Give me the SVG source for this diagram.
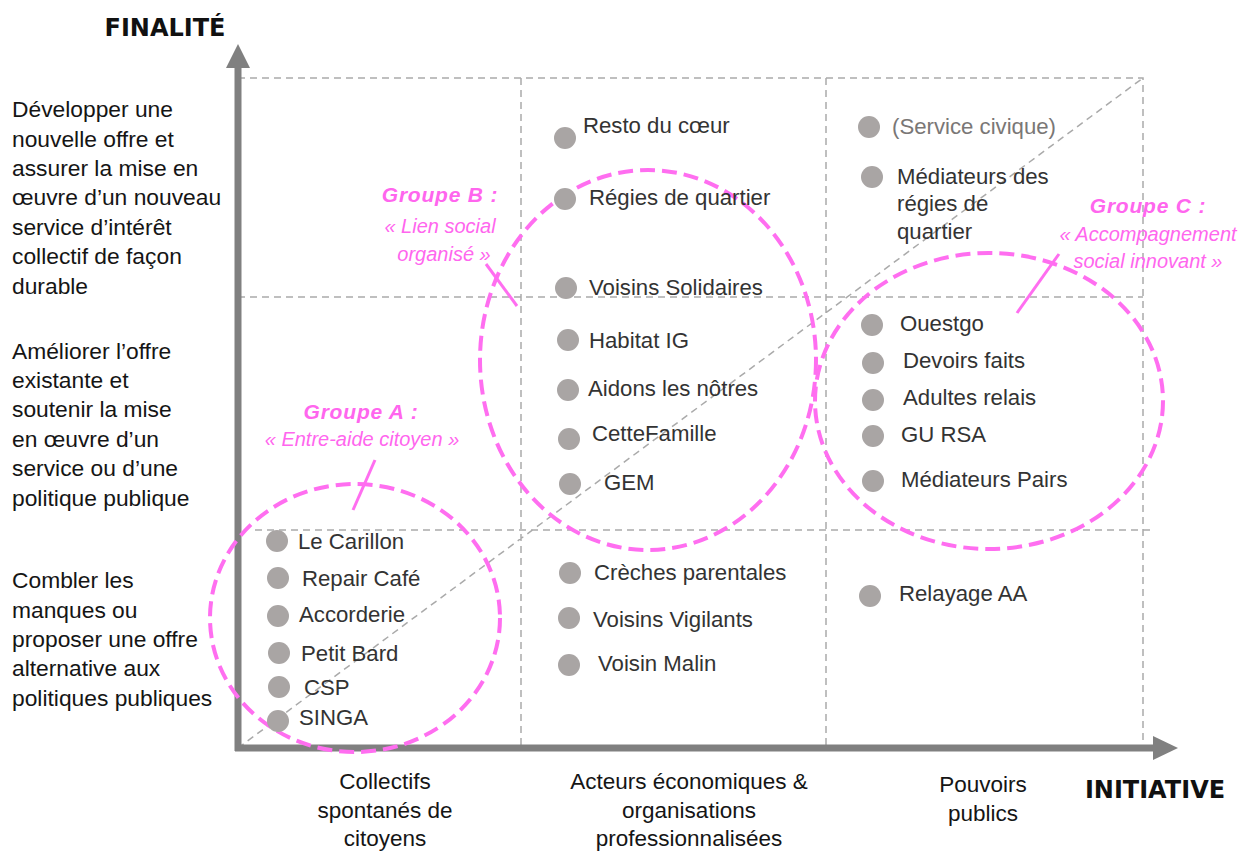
<svg xmlns="http://www.w3.org/2000/svg" width="1255" height="852" viewBox="0 0 1255 852">
<style>
.lbl{font-family:"Liberation Sans",Arial,sans-serif;font-size:22.8px;fill:#151515}
.col{font-family:"Liberation Sans",Arial,sans-serif;font-size:22.5px;fill:#151515;text-anchor:middle}
.ax{font-family:"DejaVu Sans",sans-serif;font-weight:bold;font-size:24px;fill:#111}
.it{font-family:"Liberation Sans",Arial,sans-serif;font-size:22.2px;fill:#333}
.dot{fill:#a9a5a4}
.grid{stroke:#aaa;stroke-width:1.5;stroke-dasharray:7 5;fill:none}
.grp{fill:none;stroke:#ff6ef0;stroke-width:4;stroke-dasharray:15 7}
.gt{font-family:"Liberation Sans",Arial,sans-serif;font-weight:bold;font-style:italic;font-size:21px;fill:#ff66ee;text-anchor:middle;letter-spacing:0.8px}
.gs{font-family:"Liberation Sans",Arial,sans-serif;font-style:italic;font-size:20px;fill:#ff66ee;text-anchor:middle}
.lead{stroke:#ff6ef0;stroke-width:3}
</style>
<rect width="1255" height="852" fill="#fff"/>
<g id="grid">
<path class="grid" d="M238 78H1143V748M238 297H1143M255 530H1150M521 78V748M826 78V748M238 748L1143 78"/>
</g>
<g id="axes">
<line x1="238" y1="751" x2="238" y2="66" stroke="#808080" stroke-width="7"/>
<polygon points="238,44 226,68 250,68" fill="#808080"/>
<line x1="235" y1="748" x2="1155" y2="748" stroke="#808080" stroke-width="7"/>
<polygon points="1178,748 1153,736 1153,760" fill="#808080"/>
<text class="ax" x="165" y="36" text-anchor="middle">FINALITÉ</text>
<text class="ax" x="1155" y="798" text-anchor="middle">INITIATIVE</text>
</g>
<g id="y-labels">
<text class="lbl" x="12" y="117">Développer une</text>
<text class="lbl" x="12" y="147">nouvelle offre et</text>
<text class="lbl" x="12" y="176">assurer la mise en</text>
<text class="lbl" x="12" y="205">œuvre d’un nouveau</text>
<text class="lbl" x="12" y="235">service d’intérêt</text>
<text class="lbl" x="12" y="264">collectif de façon</text>
<text class="lbl" x="12" y="294">durable</text>
<text class="lbl" x="12" y="359">Améliorer l’offre</text>
<text class="lbl" x="12" y="388">existante et</text>
<text class="lbl" x="12" y="417">soutenir la mise</text>
<text class="lbl" x="12" y="447">en œuvre d’un</text>
<text class="lbl" x="12" y="476">service ou d’une</text>
<text class="lbl" x="12" y="506">politique publique</text>
<text class="lbl" x="12" y="588">Combler les</text>
<text class="lbl" x="12" y="618">manques ou</text>
<text class="lbl" x="12" y="647">proposer une offre</text>
<text class="lbl" x="12" y="676">alternative aux</text>
<text class="lbl" x="12" y="706">politiques publiques</text>
</g>
<g id="x-labels">
<text class="col" x="385" y="789">Collectifs</text>
<text class="col" x="385" y="818">spontanés de</text>
<text class="col" x="385" y="846">citoyens</text>
<text class="col" x="689" y="789">Acteurs économiques &amp;</text>
<text class="col" x="689" y="818">organisations</text>
<text class="col" x="689" y="846">professionnalisées</text>
<text class="col" x="983" y="792">Pouvoirs</text>
<text class="col" x="983" y="821">publics</text>
</g>
<g id="groups">
<ellipse class="grp" cx="355" cy="618" rx="145" ry="134"/>
<ellipse class="grp" cx="648" cy="360" rx="168" ry="190"/>
<ellipse class="grp" cx="989" cy="401" rx="174" ry="148"/>
</g>
<g id="connectors">
<line class="lead" x1="375" y1="460" x2="353" y2="510"/>
<line class="lead" x1="486" y1="264" x2="517" y2="306"/>
<line class="lead" x1="1059" y1="254" x2="1017" y2="313"/>
</g>
<g id="group-a-label">
<text class="gt" x="361" y="419">Groupe A :</text>
<text class="gs" x="362" y="446">« Entre-aide citoyen »</text>
</g>
<g id="group-b-label">
<text class="gt" x="440" y="202">Groupe B :</text>
<text class="gs" x="440" y="233">« Lien social</text>
<text class="gs" x="444" y="261">organisé »</text>
</g>
<g id="group-c-label">
<text class="gt" x="1148" y="213">Groupe C :</text>
<text class="gs" x="1148" y="241">« Accompagnement</text>
<text class="gs" x="1148" y="268">social innovant »</text>
</g>
<g id="col-a">
<g id="le-carillon"><circle class="dot" cx="277" cy="541" r="11"/><text class="it" x="298" y="549">Le Carillon</text></g>
<g id="repair-cafe"><circle class="dot" cx="278" cy="578" r="11"/><text class="it" x="302" y="586">Repair Café</text></g>
<g id="accorderie"><circle class="dot" cx="278" cy="616" r="11"/><text class="it" x="299" y="622">Accorderie</text></g>
<g id="petit-bard"><circle class="dot" cx="279" cy="653" r="11"/><text class="it" x="301" y="661">Petit Bard</text></g>
<g id="csp"><circle class="dot" cx="279" cy="687" r="11"/><text class="it" x="304" y="695">CSP</text></g>
<g id="singa"><circle class="dot" cx="278" cy="721" r="11"/><text class="it" x="299" y="725">SINGA</text></g>
</g>
<g id="col-b">
<g id="resto"><circle class="dot" cx="565" cy="138" r="11"/><text class="it" x="583" y="133">Resto du cœur</text></g>
<g id="regies"><circle class="dot" cx="565" cy="199" r="11"/><text class="it" x="589" y="205">Régies de quartier</text></g>
<g id="voisins-solidaires"><circle class="dot" cx="566" cy="288" r="11"/><text class="it" x="589" y="295">Voisins Solidaires</text></g>
<g id="habitat-ig"><circle class="dot" cx="568" cy="340" r="11"/><text class="it" x="589" y="348">Habitat IG</text></g>
<g id="aidons"><circle class="dot" cx="568" cy="390" r="11"/><text class="it" x="588" y="396">Aidons les nôtres</text></g>
<g id="cettefamille"><circle class="dot" cx="569" cy="439" r="11"/><text class="it" x="592" y="441">CetteFamille</text></g>
<g id="gem"><circle class="dot" cx="570" cy="484" r="11"/><text class="it" x="604" y="490">GEM</text></g>
<g id="creches"><circle class="dot" cx="570" cy="573" r="11"/><text class="it" x="594" y="580">Crèches parentales</text></g>
<g id="voisins-vigilants"><circle class="dot" cx="569" cy="618" r="11"/><text class="it" x="593" y="627">Voisins Vigilants</text></g>
<g id="voisin-malin"><circle class="dot" cx="569" cy="665" r="11"/><text class="it" x="598" y="671">Voisin Malin</text></g>
</g>
<g id="col-c">
<g id="service-civique"><circle class="dot" cx="869" cy="127" r="11"/><text class="it" x="892" y="134" style="fill:#7a7776">(Service civique)</text></g>
<g id="mediateurs-regies"><circle class="dot" cx="872" cy="177" r="11"/><text class="it" x="897" y="184">Médiateurs des</text><text class="it" x="897" y="211">régies de</text><text class="it" x="897" y="239">quartier</text></g>
<g id="ouestgo"><circle class="dot" cx="872" cy="325" r="11"/><text class="it" x="900" y="331">Ouestgo</text></g>
<g id="devoirs-faits"><circle class="dot" cx="873" cy="363" r="11"/><text class="it" x="903" y="368">Devoirs faits</text></g>
<g id="adultes-relais"><circle class="dot" cx="873" cy="400" r="11"/><text class="it" x="903" y="405">Adultes relais</text></g>
<g id="gu-rsa"><circle class="dot" cx="873" cy="436" r="11"/><text class="it" x="901" y="442">GU RSA</text></g>
<g id="mediateurs-pairs"><circle class="dot" cx="873" cy="481" r="11"/><text class="it" x="901" y="487">Médiateurs Pairs</text></g>
<g id="relayage"><circle class="dot" cx="870" cy="596" r="11"/><text class="it" x="899" y="601">Relayage AA</text></g>
</g>
</svg>
